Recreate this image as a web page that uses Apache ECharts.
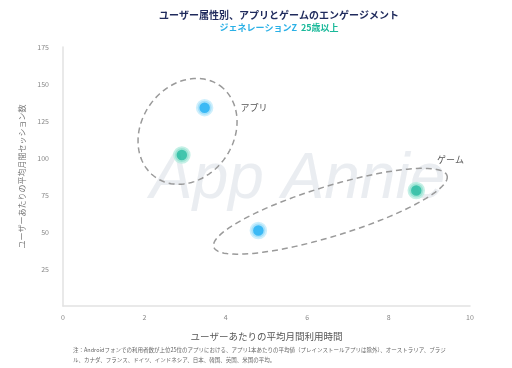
<!DOCTYPE html>
<html><head><meta charset="utf-8">
<script src="https://cdn.jsdelivr.net/npm/echarts@6/dist/echarts.min.js"></script>
<style>html,body{margin:0;padding:0;background:#fff}#c{width:512px;height:368px}</style>
</head><body><div id="c"></div>
<script>
const xTicks = [0, 2, 4, 6, 8, 10];
const yTicks = [0, 25, 50, 75, 100, 125, 150, 175];
const genZ = [[3.48, 134], [4.8, 51]];       // ジェネレーションZ: アプリ, ゲーム
const over25 = [[2.92, 102], [8.68, 78]];    // 25歳以上: アプリ, ゲーム
// group outlines: [centerX, centerY, semiMajor(px), semiMinor(px), angle(deg), label, labelX, labelY]
const groups = [[3.06, 118, 56, 46, 55, 'アプリ', 4.36, 134], [6.57, 64, 122, 25, 17, 'ゲーム', 9.19, 99]];

const chart = echarts.init(document.getElementById('c'));
const font = '"Noto Sans CJK JP", sans-serif';
function haloSeries(name, data, color, halo) {
  return {
    name, type: 'scatter', data, symbolSize: 14, z: 5,
    itemStyle: { color, borderColor: halo, borderWidth: 3.5 }
  };
}
chart.setOption({
  animation: false,
  textStyle: { fontFamily: font },
  title: {
    text: 'ユーザー属性別、アプリとゲームのエンゲージメント',
    subtext: '{a|ジェネレーションZ}  {b|25歳以上}',
    left: 274, textAlign: 'center', top: 5, itemGap: 3,
    textStyle: { fontSize: 10, fontWeight: 'bold', color: '#1f2a5c', fontFamily: font },
    subtextStyle: { fontSize: 9, fontWeight: 'bold', fontFamily: font,
      rich: { a: { color: '#2ab0e6', fontWeight: 'bold', fontSize: 9 }, b: { color: '#1ab99a', fontWeight: 'bold', fontSize: 9 } } }
  },
  grid: { left: 63, right: 42, top: 47, bottom: 62 },
  xAxis: {
    type: 'value', min: xTicks[0], max: xTicks[xTicks.length - 1], interval: 2,
    name: 'ユーザーあたりの平均月間利用時間', nameLocation: 'middle', nameGap: 26,
    nameTextStyle: { fontSize: 9.5, color: '#555' },
    axisLine: { show: true, lineStyle: { color: '#e2e2e2', width: 1.5 } },
    axisTick: { show: false }, splitLine: { show: false },
    axisLabel: { fontSize: 7, color: '#888', margin: 8 }
  },
  yAxis: {
    type: 'value', min: yTicks[0], max: yTicks[yTicks.length - 1], interval: 25,
    name: 'ユーザーあたりの平均月間セッション数', nameLocation: 'middle', nameGap: 37,
    nameTextStyle: { fontSize: 8, color: '#777' },
    axisLine: { show: true, lineStyle: { color: '#e2e2e2', width: 1.5 } },
    axisTick: { show: false }, splitLine: { show: false },
    axisLabel: { fontSize: 7, color: '#888', margin: 14, showMinLabel: false }
  },
  graphic: [
    { type: 'text', left: 150, top: 148, z: -10, silent: true,
      style: { text: 'App Annie', fontSize: 64, fontStyle: 'italic', fontFamily: '"Liberation Sans", sans-serif',
        fill: 'rgba(232,235,240,0.9)' } },
    { type: 'text', left: 73, top: 345,
      style: { text: '注：Androidフォンでの利用者数が上位25位のアプリにおける、アプリ1本あたりの平均値（プレインストールアプリは除外）、オーストラリア、ブラジ\nル、カナダ、フランス、ドイツ、インドネシア、日本、韓国、英国、米国の平均。',
        fontSize: 5.5, lineHeight: 10, fill: '#666', fontFamily: font } }
  ],
  series: [
    {
      type: 'custom', data: groups, z: 2, silent: true,
      renderItem: function (params, api) {
        const g = groups[params.dataIndex];
        const c = api.coord([g[0], g[1]]);
        const a = g[2], b = g[3], t = -g[4] * Math.PI / 180;
        const pts = [];
        for (let i = 0; i < 120; i++) {
          const u = i / 120 * Math.PI * 2;
          const x = a * Math.cos(u), y = b * Math.sin(u);
          pts.push([c[0] + x * Math.cos(t) - y * Math.sin(t), c[1] + x * Math.sin(t) + y * Math.cos(t)]);
        }
        const lp = api.coord([g[6], g[7]]);
        return { type: 'group', children: [
          { type: 'polygon', shape: { points: pts },
            style: { fill: 'none', stroke: '#9a9a9a', lineWidth: 1.5, lineDash: [6, 4] } },
          { type: 'text', x: lp[0], y: lp[1], style: { text: g[5], fontSize: 9, fill: '#555', fontFamily: font, verticalAlign: 'middle' } }
        ] };
      }
    },
    haloSeries('ジェネレーションZ', genZ, '#0aa8f2', '#c2ebfb'),
    haloSeries('25歳以上', over25, '#12b798', '#b7ece0')
  ]
});
</script></body></html>
